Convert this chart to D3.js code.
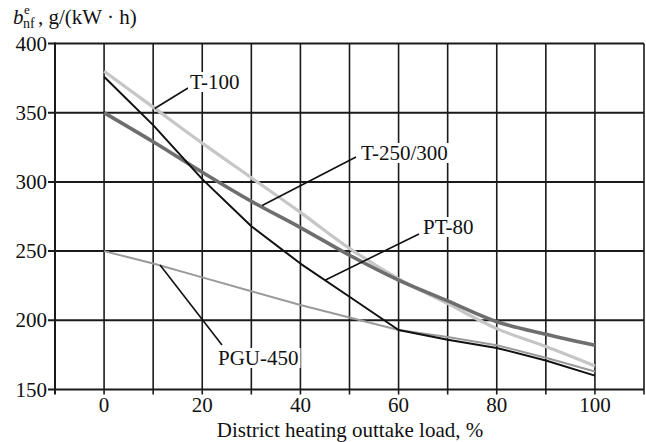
<!DOCTYPE html>
<html>
<head>
<meta charset="utf-8">
<script src="https://cdn.jsdelivr.net/npm/d3@7"></script>
<style>
  body { margin: 0; background: #fff; }
</style>
</head>
<body>
<div id="chart"></div>
<script>
// load % (x) and specific fuel consumption g/(kW·h) (y)
const loads = [0, 10, 20, 30, 40, 50, 60, 70, 80, 90, 100];
const t100 = [380, 354, 328, 303, 278, 252, 230, 212, 194, 181, 167];
const t250 = [350, 329, 307, 286, 267, 247, 229, 214, 199, 190, 182];
const pt80 = [376, 341, 302, 268, 241, 217, 193, 186, 180, 171, 160];
const pgu450 = [250, 241, 231, 221, 211, 202, 193, 188, 182, 173, 163];

const xTicks = [0, 20, 40, 60, 80, 100];
const xGrid = [-10, 0, 10, 20, 30, 40, 50, 60, 70, 80, 90, 100, 110];
const yTicks = [150, 200, 250, 300, 350, 400];

const series = [
  { name: "T-100", values: t100, color: "#c6c6c6", width: 3.2, smooth: true },
  { name: "T-250/300", values: t250, color: "#6e6e6e", width: 3.6, smooth: true },
  { name: "PGU-450", values: pgu450, color: "#9a9a9a", width: 2, smooth: false },
  { name: "PT-80", values: pt80, color: "#111", width: 2, smooth: false }
];

// label text position + leader (end given in data units, on the curve)
const labels = [
  { text: "T-100", tx: 190, ty: 89, lx: 188, ly: 88, dx: 10.3, dy: 353 },
  { text: "T-250/300", tx: 361, ty: 160, lx: 356, ly: 157, dx: 32.2, dy: 283 },
  { text: "PT-80", tx: 423, ty: 234, lx: 419, ly: 234, dx: 45, dy: 229 },
  { text: "PGU-450", tx: 218, ty: 365, lx: 222, ly: 345, dx: 11.4, dy: 240 }
];

const font = "'Liberation Serif', 'Times New Roman', 'DejaVu Serif', serif";
const fs = 21;
const width = 646, height = 442;
const x = d3.scaleLinear().domain([-10, 110]).range([55, 644]);
const y = d3.scaleLinear().domain([150, 400]).range([389.5, 43.5]);

const svg = d3.select("#chart").append("svg")
  .attr("width", width).attr("height", height)
  .attr("font-family", font)
  .style("font-family", font);

// vertical grid lines, a little past the bottom as ticks
svg.append("g").selectAll("line").data(xGrid).enter().append("line")
  .attr("x1", d => x(d)).attr("x2", d => x(d))
  .attr("y1", y(400)).attr("y2", d => d === -10 ? y(150) : y(150) + 5)
  .attr("stroke", "#1a1a1a").attr("stroke-width", 1.6);

// horizontal grid lines with ticks to the left
svg.append("g").selectAll("line").data(yTicks).enter().append("line")
  .attr("x1", x(-10) - 7).attr("x2", x(110))
  .attr("y1", d => y(d)).attr("y2", d => y(d))
  .attr("stroke", "#1a1a1a").attr("stroke-width", 2);

svg.append("line")
  .attr("x1", x(-10)).attr("x2", x(-10))
  .attr("y1", y(400) - 1).attr("y2", y(150) + 5)
  .attr("stroke", "#1a1a1a").attr("stroke-width", 2);

svg.append("g").selectAll("text").data(yTicks).enter().append("text")
  .attr("x", x(-10) - 8).attr("y", d => y(d) + 7)
  .attr("text-anchor", "end").attr("font-size", fs).attr("fill", "#111")
  .text(d => d);

svg.append("g").selectAll("text").data(xTicks).enter().append("text")
  .attr("x", d => x(d)).attr("y", 412)
  .attr("text-anchor", "middle").attr("font-size", fs).attr("fill", "#111")
  .text(d => d);

svg.append("text")
  .attr("x", 350).attr("y", 437)
  .attr("text-anchor", "middle").attr("font-size", fs).attr("fill", "#111")
  .text("District heating outtake load, %");

// y axis title: b_nf^e, g/(kW · h)
const title = svg.append("text").attr("x", 13).attr("y", 24)
  .attr("font-size", fs).attr("fill", "#111");
title.append("tspan").attr("font-style", "italic").text("b");
title.append("tspan").attr("x", 23).attr("y", 28).attr("font-size", 14).text("nf");
title.append("tspan").attr("x", 24).attr("y", 14).attr("font-size", 13).text("e");
title.append("tspan").attr("x", 38).attr("y", 24).text(", g/(kW · h)");

const smoothLine = d3.line()
  .x((d, i) => x(loads[i]))
  .y(d => y(d))
  .curve(d3.curveMonotoneX);
const straightLine = d3.line()
  .x((d, i) => x(loads[i]))
  .y(d => y(d));

svg.append("g").selectAll("path").data(series).enter().append("path")
  .attr("d", d => d.smooth ? smoothLine(d.values) : straightLine(d.values))
  .attr("fill", "none")
  .attr("stroke", d => d.color)
  .attr("stroke-width", d => d.width)
  .attr("stroke-linejoin", "round");

// leaders and labels
svg.append("g").selectAll("line").data(labels).enter().append("line")
  .attr("x1", d => d.lx).attr("y1", d => d.ly)
  .attr("x2", d => x(d.dx)).attr("y2", d => y(d.dy))
  .attr("stroke", "#111").attr("stroke-width", 1.6);

const lab = svg.append("g").selectAll("g").data(labels).enter().append("g");
lab.append("rect").attr("fill", "#fff");
const texts = lab.append("text")
  .attr("x", d => d.tx).attr("y", d => d.ty)
  .attr("font-size", fs).attr("fill", "#111")
  .text(d => d.text);
texts.each(function (d) {
  const b = this.getBBox();
  d3.select(this.parentNode).select("rect")
    .attr("x", b.x - 2).attr("y", b.y + 2)
    .attr("width", b.width + 4).attr("height", b.height - 4);
});
</script>
</body>
</html>
